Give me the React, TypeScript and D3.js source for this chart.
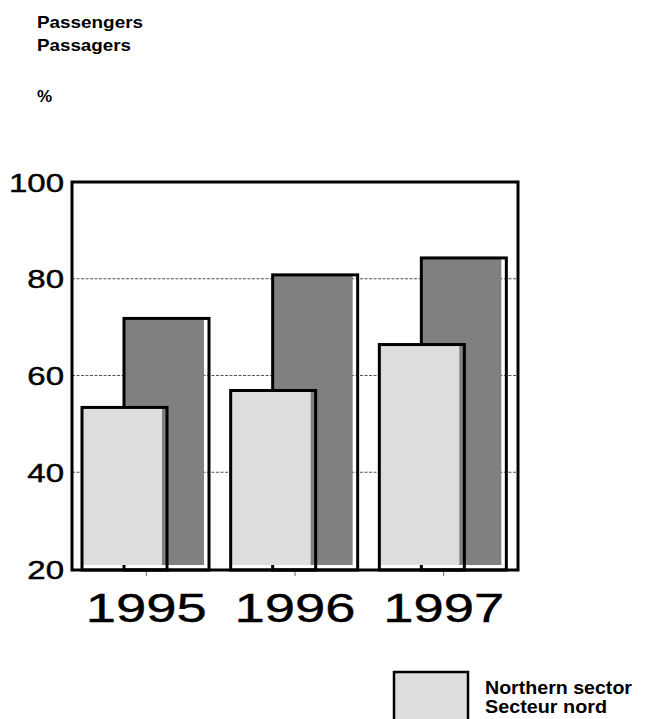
import React from 'react';
import * as d3 from 'd3';

const years = ['1995', '1996', '1997'];
const northern = [53.4, 56.9, 66.4];
const southern = [71.8, 80.8, 84.3];
const yTicks = [20, 40, 60, 80, 100];
const gridTicks = [40, 60, 80];

const W = 646;
const H = 719;
const left = 72;
const right = 518;
const top = 182;
const bottom = 570;

const App: React.FC = () => {
    const x = d3.scaleBand<string>().domain(years).range([left, right]);
    const y = d3.scaleLinear().domain([20, 100]).range([bottom - 1, top]);

    const barW = 85;
    const lightOff = 10;
    const darkOff = 52;
    const font = 'Liberation Sans, Arial, Helvetica, sans-serif';

    // bar: open outline, fill inset on right and bottom so what is behind shows through
    const bar = (x0: number, v: number, fill: string, key: string) => {
        const yt = y(v);
        return (
            <g key={key}>
                <rect x={x0} y={yt} width={barW - 5} height={bottom - yt - 5} fill={fill} />
                <rect x={x0} y={yt} width={barW} height={bottom - yt} fill="none" stroke="#000" strokeWidth={3} />
            </g>
        );
    };

    return (
        <svg width={W} height={H} style={{ position: 'absolute', left: 0, top: 0, background: '#fff' }}>
            <g fontFamily={font} fontWeight="bold" fontSize={17} fill="#000">
                <text x={37} y={28} textLength={106} lengthAdjust="spacingAndGlyphs">Passengers</text>
                <text x={37} y={51} textLength={94} lengthAdjust="spacingAndGlyphs">Passagers</text>
                <text x={37} y={102}>%</text>
            </g>

            {gridTicks.map((t) => (
                <line key={t} x1={left} x2={right} y1={y(t)} y2={y(t)} stroke="#555" strokeWidth={1} strokeDasharray="3,1.5" />
            ))}

            {years.map((yr, i) => bar((x(yr) as number) + darkOff, southern[i], '#808080', 'd' + yr))}
            {years.map((yr, i) => bar((x(yr) as number) + lightOff, northern[i], '#dddddd', 'l' + yr))}

            <rect x={left} y={top} width={right - left} height={bottom - top} fill="none" stroke="#000" strokeWidth={3} />

            {years.map((yr) => {
                const cx = (x(yr) as number) + x.bandwidth() / 2;
                return <line key={'t' + yr} x1={cx} x2={cx} y1={bottom + 2} y2={bottom + 6} stroke="#666" strokeWidth={1} />;
            })}

            {yTicks.map((t) => (
                <text
                    key={'y' + t}
                    transform={`translate(64,${y(t) + 9.5}) scale(1.27,1)`}
                    textAnchor="end"
                    fontFamily={font}
                    fontSize={26}
                    stroke="#000"
                    strokeWidth={0.45}
                >
                    {t}
                </text>
            ))}

            {years.map((yr) => (
                <text
                    key={'x' + yr}
                    transform={`translate(${(x(yr) as number) + x.bandwidth() / 2},622) scale(1.36,1)`}
                    textAnchor="middle"
                    fontFamily={font}
                    fontSize={40}
                    stroke="#000"
                    strokeWidth={0.4}
                >
                    {yr}
                </text>
            ))}

            <rect x={394} y={672} width={74} height={70} fill="#dddddd" stroke="#000" strokeWidth={2.5} />
            <g fontFamily={font} fontWeight="bold" fontSize={18.5}>
                <text x={485} y={694} textLength={147} lengthAdjust="spacingAndGlyphs">Northern sector</text>
                <text x={485} y={713} textLength={122} lengthAdjust="spacingAndGlyphs">Secteur nord</text>
            </g>
        </svg>
    );
};

export default App;
